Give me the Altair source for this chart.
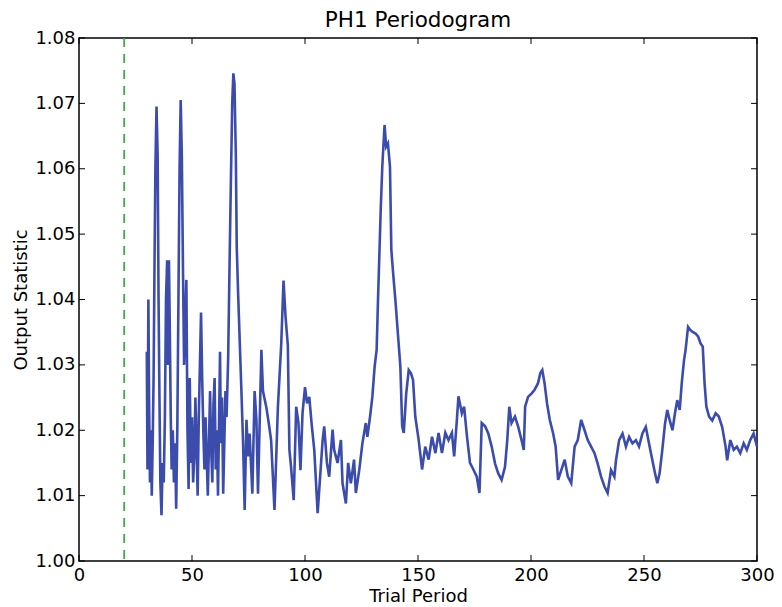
import altair as alt
import pandas as pd

# Periodogram trace
period = [
    30.0, 30.3, 30.7, 31.0, 31.4, 31.8, 32.2, 32.6, 33.0, 33.4, 33.8, 34.3, 34.8, 35.2, 35.6,
    36.0, 36.5, 37.0, 37.5, 38.0, 38.5, 39.0, 39.4, 39.8, 40.2, 40.6, 41.0, 41.5, 42.0, 42.5,
    43.0, 43.5, 44.0, 44.5, 45.0, 45.5, 46.0, 46.5, 47.0, 47.5, 48.0, 48.5, 49.0, 49.5, 50.0,
    50.5, 51.0, 51.5, 52.0, 52.5, 53.0, 53.5, 54.0, 54.5, 55.0, 55.5, 56.0, 56.5, 57.0, 57.5,
    58.0, 58.5, 59.0, 59.5, 60.0, 60.5, 61.0, 61.5, 62.0, 62.4, 62.8, 63.3, 63.8, 64.3, 64.8,
    65.3, 66.0, 66.6, 67.2, 67.8, 68.3, 68.8, 69.4, 69.8, 70.4,
    71.9, 72.6, 73.3, 74.1, 74.8, 75.5, 76.7, 77.7, 78.5, 79.2, 80.7, 81.4, 82.9, 84.0, 85.0,
    86.5, 88.0, 89.5, 90.5, 91.4, 92.4, 93.1, 93.8, 95.0, 96.1, 97.1, 98.0, 98.9, 100.0, 100.9,
    101.9, 102.9, 104.1, 105.6, 106.6, 107.8, 108.5, 109.7, 110.7, 112.2, 112.9, 114.4, 115.9,
    116.6, 118.1, 119.1, 120.3, 121.7, 122.5, 124.0, 125.4, 126.9, 127.6, 128.8, 129.8, 130.8,
    131.7, 132.3, 133.5, 134.2, 135.2, 135.9, 136.7, 137.6, 138.2, 139.0, 140.0, 141.1, 142.2,
    143.0, 143.7, 144.8, 145.9, 146.9, 147.8, 148.8, 150.3, 151.8, 153.2, 154.7, 156.2, 157.7,
    159.1, 160.6, 162.1, 163.5, 165.0, 166.0, 167.2, 167.9, 169.4, 170.4, 171.6, 173.0, 174.5,
    176.0, 177.2, 178.2, 179.7, 181.1, 182.6, 184.1, 185.5, 187.0, 188.5, 189.5, 190.4, 191.4,
    192.9, 194.3, 195.8, 196.8, 197.4, 198.7, 200.2, 201.6, 203.1, 204.1, 205.0, 206.0, 207.1,
    208.3, 209.8, 210.9, 212.0, 213.4, 214.9, 216.3, 217.8, 219.3, 220.7, 222.2, 223.7, 225.1,
    226.6, 228.1, 229.5, 231.0, 232.5, 233.9, 235.4, 236.9, 237.6, 239.0, 240.5, 242.0, 243.4,
    244.9, 246.4, 247.8, 249.3, 250.8, 252.2, 253.7, 254.9, 255.9, 256.9, 258.1, 259.3, 260.3,
    261.4, 262.6, 263.7, 264.7, 265.8, 266.7, 267.7, 268.4, 269.5, 270.6, 271.7, 272.8, 274.0,
    275.0, 276.0, 276.8, 277.6, 278.8, 280.2, 281.7, 283.1, 284.6, 286.1, 286.8, 288.2, 289.7,
    291.1, 292.6, 294.1, 295.5, 297.0, 298.5, 300.0,
]
statistic = [
    1.032, 1.014, 1.040, 1.025, 1.012, 1.020, 1.010, 1.018, 1.028, 1.045, 1.060, 1.0695, 1.062, 1.040, 1.025,
    1.012, 1.007, 1.015, 1.012, 1.022, 1.040, 1.046, 1.030, 1.046, 1.035, 1.022, 1.014, 1.020, 1.012, 1.018,
    1.008, 1.020, 1.040, 1.060, 1.0705, 1.062, 1.045, 1.030, 1.036, 1.043, 1.020, 1.011, 1.028, 1.015, 1.022,
    1.012, 1.016, 1.025, 1.018, 1.010, 1.022, 1.030, 1.038, 1.028, 1.020, 1.014, 1.022, 1.016, 1.010, 1.018,
    1.026, 1.017, 1.012, 1.024, 1.028, 1.014, 1.020, 1.010, 1.022, 1.032, 1.018, 1.025, 1.0103, 1.018, 1.026,
    1.022, 1.031, 1.045, 1.058, 1.070, 1.0746, 1.073, 1.062, 1.048, 1.041,
    1.0256, 1.018, 1.0078, 1.0216, 1.016, 1.0195, 1.0103, 1.026, 1.0216, 1.0103, 1.0323, 1.026, 1.0235, 1.021, 1.0185,
    1.0078, 1.0235, 1.0333, 1.0429, 1.0373, 1.033, 1.0170, 1.0145, 1.0093, 1.0236, 1.0211, 1.0139, 1.0226, 1.0266, 1.0241,
    1.0251, 1.0211, 1.0170, 1.0073, 1.0124, 1.0185, 1.0206, 1.0150, 1.0129, 1.0201, 1.0170, 1.0150, 1.0185,
    1.0119, 1.0088, 1.0150, 1.0119, 1.0155, 1.0104, 1.0139, 1.0180, 1.0211, 1.0190, 1.0221, 1.0251, 1.0297,
    1.0323, 1.0399, 1.0537, 1.0603, 1.0667, 1.0634, 1.0639, 1.0603, 1.0476, 1.0440, 1.0399, 1.0348, 1.0297,
    1.0206, 1.0196, 1.0257, 1.0292, 1.0287, 1.0277, 1.0221, 1.0185, 1.0140, 1.0175, 1.0155, 1.0190, 1.0165,
    1.0196, 1.0165, 1.0196, 1.0185, 1.0196, 1.0160, 1.0216, 1.0252, 1.0226, 1.0236, 1.0193, 1.0150, 1.0140,
    1.0129, 1.0104, 1.0211, 1.0206, 1.0195, 1.0175, 1.0149, 1.0134, 1.0124, 1.0144, 1.0185, 1.0236, 1.0211,
    1.0221, 1.0206, 1.0185, 1.0170, 1.0236, 1.0251, 1.0256, 1.0262, 1.0272, 1.0287, 1.0292, 1.0272, 1.0241,
    1.0216, 1.0195, 1.0175, 1.0124, 1.0139, 1.0155, 1.0129, 1.0119, 1.0175, 1.0185, 1.0216, 1.0200, 1.0185,
    1.0175, 1.0165, 1.0149, 1.0129, 1.0114, 1.0104, 1.0139, 1.0129, 1.0154, 1.0185, 1.0195, 1.0175, 1.0190,
    1.0180, 1.0185, 1.0175, 1.0195, 1.0205, 1.0180, 1.0154, 1.0134, 1.0119, 1.0134, 1.0170, 1.0210, 1.0231,
    1.0215, 1.0200, 1.0226, 1.0246, 1.0231, 1.0272, 1.0307, 1.0323, 1.0358, 1.0353, 1.0350, 1.0348, 1.0343,
    1.0333, 1.0328, 1.0272, 1.0236, 1.0221, 1.0215, 1.0226, 1.0221, 1.0205, 1.0175, 1.0154, 1.0185, 1.0170,
    1.0175, 1.0165, 1.0180, 1.0170, 1.0185, 1.0195, 1.0175,
]
marker_period = [20]
x_ticks = [0, 50, 100, 150, 200, 250, 300]
y_ticks = [1.00, 1.01, 1.02, 1.03, 1.04, 1.05, 1.06, 1.07, 1.08]

W, H = 678, 523
FONT = "DejaVu Sans"
TICK = 6

df = pd.DataFrame({"period": period, "stat": statistic})
mk = pd.DataFrame({"period": marker_period})
xt = pd.DataFrame({"period": x_ticks})
yt = pd.DataFrame({"stat": y_ticks})

xs = alt.Scale(domain=[0, 300], nice=False, zero=False)
ys = alt.Scale(domain=[1.0, 1.08], nice=False, zero=False)

xa = alt.Axis(
    values=x_ticks, title="Trial Period", grid=False, ticks=False, domain=False,
    labelFont=FONT, labelFontSize=18, labelColor="black", labelPadding=5,
    labelFlush=False, labelOverlap=False,
    titleFont=FONT, titleFontSize=18, titleFontWeight="normal", titleColor="black",
    titlePadding=3)
ya = alt.Axis(
    values=y_ticks, format=".2f", title="Output Statistic", grid=False, ticks=False,
    domain=False, labelFont=FONT, labelFontSize=18, labelColor="black", labelPadding=4,
    labelFlush=False, labelOverlap=False,
    titleFont=FONT, titleFontSize=18, titleFontWeight="normal", titleColor="black",
    titlePadding=4)

X = lambda: alt.X("period:Q", scale=xs, axis=xa)
Y = lambda: alt.Y("stat:Q", scale=ys, axis=ya)

line = alt.Chart(df).mark_line(color="#3b4cad", strokeWidth=2.6).encode(
    x=X(), y=Y(), order="period:Q",
)

vline = alt.Chart(mk).mark_rule(color="#45a845", strokeWidth=1.8, strokeDash=[9, 7]).encode(
    x=X(), y=alt.value(0), y2=alt.value(H),
)

tick_style = dict(color="black", strokeWidth=1)
left_t = alt.Chart(yt).mark_rule(**tick_style).encode(
    y=Y(), x=alt.value(0), x2=alt.value(TICK))
right_t = alt.Chart(yt).mark_rule(**tick_style).encode(
    y=Y(), x=alt.value(W - TICK), x2=alt.value(W))
bottom_t = alt.Chart(xt).mark_rule(**tick_style).encode(
    x=X(), y=alt.value(H - TICK), y2=alt.value(H))
top_t = alt.Chart(xt).mark_rule(**tick_style).encode(
    x=X(), y=alt.value(0), y2=alt.value(TICK))

chart = alt.layer(line, vline, left_t, right_t, bottom_t, top_t).properties(
    width=W, height=H,
    background="white",
    title=alt.TitleParams("PH1 Periodogram", font=FONT, fontSize=21.5, fontWeight="normal",
                          color="black", offset=6, dy=8),
    autosize=alt.AutoSizeParams(type="none"),
    padding={"left": 71, "top": 30, "right": 17, "bottom": 46},
).configure_view(stroke="black", strokeWidth=1.5)

chart.save("out.html", embed_options={"renderer": "svg", "actions": False})
